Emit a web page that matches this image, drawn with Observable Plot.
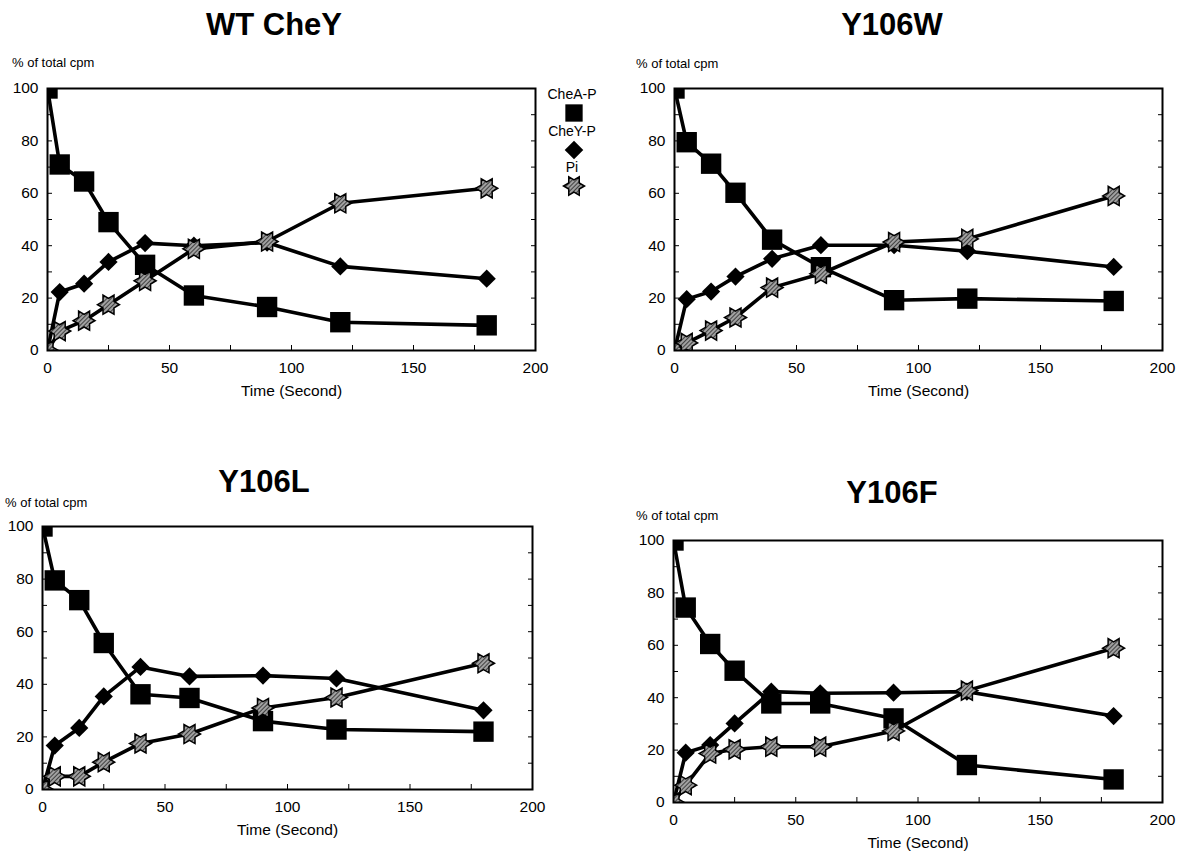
<!DOCTYPE html>
<html><head><meta charset="utf-8">
<script src="https://cdn.jsdelivr.net/npm/d3@7"></script>
<script src="https://cdn.jsdelivr.net/npm/@observablehq/plot@0.6"></script>
<style>
body{margin:0;background:#fff;font-family:"Liberation Sans",Arial,Helvetica,sans-serif;}
#root{position:relative;width:1178px;height:854px;overflow:hidden;background:#fff;}
.title{position:absolute;font-weight:bold;font-size:31px;transform:translate(-50%,-50%);white-space:nowrap;line-height:1;color:#000;}
.ylab{position:absolute;font-size:13px;white-space:nowrap;line-height:1;transform:translateY(-50%);color:#000;}
.panel{position:absolute;}
.legtext{position:absolute;font-size:14px;white-space:nowrap;line-height:1;transform:translate(-50%,-50%);color:#000;}
.legsym{position:absolute;}
</style></head>
<body>
<svg width="0" height="0" style="position:absolute">
  <defs>
    <pattern id="hatch" patternUnits="userSpaceOnUse" width="3" height="3" patternTransform="rotate(45)">
      <rect width="3" height="3" fill="#a0a0a0"></rect>
      <line x1="0" y1="0" x2="0" y2="3" stroke="#202020" stroke-width="1.5"></line>
    </pattern>
  </defs>
</svg>
<div id="root"></div>
<script>
// ---- data ----
const times = [0, 5, 15, 25, 40, 60, 90, 120, 180];
const seriesNames = ["CheA-P", "CheY-P", "Pi"];
const panelTitles = ["WT CheY", "Y106W", "Y106L", "Y106F"];
const xTickLabels = [0, 50, 100, 150, 200];
const yTickLabels = [0, 20, 40, 60, 80, 100];
const xLabel = "Time (Second)";
const yLabel = "% of total cpm";

const wtCheAP = [100, 71, 64.5, 49, 32.7, 21, 16.6, 10.8, 9.6];
const wtCheYP = [0, 22.3, 25.5, 33.8, 41, 40, 41.2, 32.1, 27.4];
const wtPi    = [0, 7.4, 11.4, 17.5, 26.6, 38.8, 41.6, 56.2, 61.9];

const wCheAP = [100, 79.5, 71.3, 60.2, 42.3, 31.8, 19.2, 19.8, 18.9];
const wCheYP = [0, 19.6, 22.5, 28.2, 35, 40.2, 40.2, 37.9, 31.9];
const wPi    = [0, 2.9, 7.6, 12.6, 24, 29.3, 41.4, 42.6, 59];

const lCheAP = [100, 79.5, 72, 55.7, 36.2, 34.8, 26, 22.8, 22];
const lCheYP = [0, 16.7, 23.4, 35.4, 46.6, 43, 43.3, 42.2, 30.1];
const lPi    = [0, 5, 5, 10.4, 17.5, 21.1, 31, 35, 48];

const fCheAP = [100, 74.4, 60.5, 50.3, 37.8, 37.8, 32.1, 14.3, 8.8];
const fCheYP = [0, 19, 21.9, 30.2, 42.3, 41.7, 41.9, 42.3, 33];
const fPi    = [0, 6.6, 18.7, 20.3, 21.3, 21.3, 27.3, 42.7, 58.9];

const panelValues = [
  [wtCheAP, wtCheYP, wtPi],
  [wCheAP, wCheYP, wPi],
  [lCheAP, lCheYP, lPi],
  [fCheAP, fCheYP, fPi]
];

// ---- layout ----
const FONT = '"Liberation Sans", Arial, Helvetica, sans-serif';
const layouts = [
  {left: 0,   top: 60,  w: 552, h: 345, ml: 47, mr: 17, mt: 28, mb: 55, tx: 274, ty: 24, ylx: 12,  yly: 62},
  {left: 620, top: 60,  w: 556, h: 345, ml: 54, mr: 14, mt: 28, mb: 55, tx: 892, ty: 24, ylx: 636, yly: 63},
  {left: 0,   top: 498, w: 546, h: 346, ml: 42, mr: 14, mt: 28, mb: 55, tx: 264, ty: 481, ylx: 5,  yly: 502},
  {left: 620, top: 512, w: 555, h: 342, ml: 53, mr: 13, mt: 28, mb: 52, tx: 892, ty: 492, ylx: 636, yly: 515}
];

// six-pointed star symbol (points left/right)
const hexagram = {
  draw(context, size) {
    const R = Math.sqrt(size / Math.PI);
    const r = R / Math.sqrt(3);
    for (let i = 0; i < 12; i++) {
      const a = (i * Math.PI) / 6;
      const rr = i % 2 === 0 ? R : r;
      const px = rr * Math.cos(a), py = rr * Math.sin(a);
      if (i === 0) context.moveTo(px, py); else context.lineTo(px, py);
    }
    context.closePath();
  }
};

const root = document.getElementById("root");
const xMinor = d3.range(0, 201, 25);
const yMinor = d3.range(0, 101, 10);

panelTitles.forEach((title, p) => {
  const L = layouts[p];
  const rows = [];
  seriesNames.forEach((s, k) => {
    times.forEach((t, i) => rows.push({series: s, time: t, value: panelValues[p][k][i]}));
  });

  const chart = Plot.plot({
    width: L.w, height: L.h,
    marginLeft: L.ml, marginRight: L.mr, marginTop: L.mt, marginBottom: L.mb,
    style: {fontFamily: FONT, fontSize: "15px", color: "black", background: "transparent", overflow: "visible"},
    x: {domain: [0, 200]},
    y: {domain: [0, 100]},
    marks: [
      Plot.axisX({ticks: xTickLabels, tickSize: 0, tickPadding: 11, fontSize: 15.5, label: xLabel, labelAnchor: "center", labelOffset: 45, labelArrow: "none"}),
      Plot.axisX({ticks: xMinor, tickSize: 5, dy: -5, tickFormat: () => "", label: null}),
      Plot.axisY({ticks: yTickLabels, tickSize: 0, tickPadding: 9, fontSize: 15.5, label: null}),
      Plot.axisY({ticks: yMinor, tickSize: 5, dx: 5, tickFormat: () => "", label: null}),
      Plot.axisY({anchor: "right", ticks: yMinor, tickSize: 5, dx: -5, tickFormat: () => "", label: null}),
      Plot.line(rows, {x: "time", y: "value", z: "series", stroke: "black", strokeWidth: 3.6, clip: true}),
      Plot.dot(rows.filter(d => d.series === "CheA-P"), {x: "time", y: "value", symbol: "square", r: 11.5, fill: "black", stroke: "none", clip: true}),
      Plot.dot(rows.filter(d => d.series === "CheY-P"), {x: "time", y: "value", symbol: "diamond2", r: 8.2, fill: "black", stroke: "none", clip: true}),
      Plot.dot(rows.filter(d => d.series === "Pi"), {x: "time", y: "value", symbol: hexagram, r: 11, fill: "url(#hatch)", stroke: "black", strokeWidth: 1.5, clip: true}),
      Plot.frame({stroke: "black", strokeWidth: 2})
    ]
  });
  chart.classList.add("panel");
  chart.style.left = L.left + "px";
  chart.style.top = L.top + "px";
  root.appendChild(chart);

  const t = document.createElement("div");
  t.className = "title";
  t.textContent = title;
  t.style.left = L.tx + "px";
  t.style.top = L.ty + "px";
  root.appendChild(t);

  const yl = document.createElement("div");
  yl.className = "ylab";
  yl.textContent = yLabel;
  yl.style.left = L.ylx + "px";
  yl.style.top = L.yly + "px";
  root.appendChild(yl);
});

// ---- legend (first panel, right of frame) ----
const legendSymbols = [
  {sym: d3.symbolSquare, size: 300, fill: "black", stroke: "none"},
  {sym: d3.symbolDiamond2, size: 220, fill: "black", stroke: "none"},
  {sym: hexagram, size: Math.PI * 110, fill: "url(#hatch)", stroke: "black"}
];
const legendY = [94, 131, 167];
seriesNames.forEach((s, k) => {
  const tx = document.createElement("div");
  tx.className = "legtext";
  tx.textContent = s;
  tx.style.left = "572px";
  tx.style.top = legendY[k] + "px";
  root.appendChild(tx);
  const svg = d3.create("svg").attr("class", "legsym").attr("width", 28).attr("height", 28)
    .style("left", (574 - 14) + "px").style("top", (legendY[k] + 19 - 14) + "px");
  svg.append("path").attr("transform", "translate(14,14)")
    .attr("d", d3.symbol(legendSymbols[k].sym, legendSymbols[k].size)())
    .attr("fill", legendSymbols[k].fill).attr("stroke", legendSymbols[k].stroke).attr("stroke-width", 1.5);
  root.appendChild(svg.node());
});
</script>
</body></html>
